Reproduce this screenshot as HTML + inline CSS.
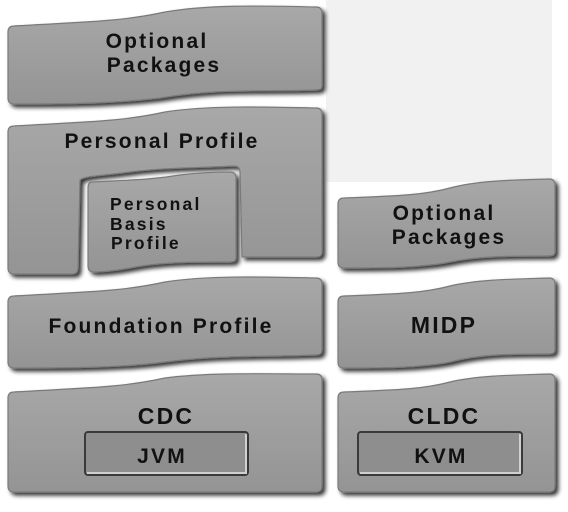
<!DOCTYPE html>
<html><head><style>
html,body{margin:0;padding:0;background:#fff;}
svg{display:block}
text{font-family:"Liberation Sans",sans-serif;font-weight:bold;fill:#111;letter-spacing:2.2px}
</style></head><body>
<svg width="568" height="512" viewBox="0 0 568 512" xmlns="http://www.w3.org/2000/svg">
<defs>
<linearGradient id="g" x1="0" y1="0" x2="0" y2="1">
<stop offset="0" stop-color="#a8a8a8"/><stop offset="1" stop-color="#949494"/>
</linearGradient>
<filter id="s" x="-5%" y="-5%" width="115%" height="120%">
<feGaussianBlur in="SourceAlpha" stdDeviation="2"/><feOffset dx="3" dy="3"/>
<feComponentTransfer><feFuncA type="linear" slope="0.8"/></feComponentTransfer>
<feMerge><feMergeNode/><feMergeNode in="SourceGraphic"/></feMerge>
</filter>
</defs>
<rect x="326" y="0" width="226" height="182" fill="#f1f1f1"/>
<g fill="url(#g)" stroke="#7a7a7a" stroke-width="1.2" filter="url(#s)">
<path d="M14,26 C80,22 120,22 165,12 C210,4 270,6 316,7 Q322,7 322,13 L322,86 Q322,90 316,90 C260,92 220,88 160,98 C110,104 60,104 14,104 Q8,104 8,98 L8,32 Q8,26 14,26Z"/>
<path d="M14,126 C80,122 120,122 165,112 C210,105 270,107 316,108 Q322,108 322,114 L322,252 Q322,257 316,257 L242,257 L240,172 Q240,166 234,166 C190,168 160,168 130,172 C100,176 84,176 80,180 L78,268 Q78,274 72,274 L14,274 Q8,274 8,268 L8,132 Q8,126 14,126Z"/>
<path d="M92,182 C130,180 150,180 180,175 C205,172 220,172 230,172 Q236,172 236,178 L236,258 Q236,262 230,262 C190,262 160,262 130,268 C115,271 100,272 94,272 Q88,272 88,266 L88,188 Q88,182 92,182Z"/>
<path d="M14,296 C80,292 120,292 165,282 C210,275 270,277 316,278 Q322,278 322,284 L322,350 Q322,355 316,355 C260,357 220,355 165,362 C120,368 60,368 14,368 Q8,368 8,362 L8,302 Q8,296 14,296Z"/>
<path d="M14,392 C80,388 120,388 165,378 C210,372 270,374 316,374 Q322,374 322,380 L322,486 Q322,492 316,492 L14,492 Q8,492 8,486 L8,398 Q8,392 14,392Z"/>
<path d="M344,198 C390,196 420,196 450,188 C480,180 520,180 549,179 Q555,179 555,185 L555,252 Q555,256 549,256 C510,256 480,256 450,262 C420,268 380,268 344,268 Q338,268 338,262 L338,204 Q338,198 344,198Z"/>
<path d="M344,296 C390,294 420,294 450,286 C480,279 520,279 549,278 Q555,278 555,284 L555,350 Q555,354 549,354 C510,354 480,354 450,362 C420,368 380,368 344,368 Q338,368 338,362 L338,302 Q338,296 344,296Z"/>
<path d="M344,392 C390,390 420,390 450,382 C480,375 520,375 549,374 Q555,374 555,380 L555,486 Q555,492 549,492 L344,492 Q338,492 338,486 L338,398 Q338,392 344,392Z"/>
</g>
<rect x="85" y="432" width="163" height="43" rx="3" fill="#8e8e8e" stroke="#3a3a3a" stroke-width="2"/>
<path d="M87,473 L246,473 L246,434" fill="none" stroke="#d0d0d0" stroke-width="2"/>
<rect x="358" y="432" width="164" height="43" rx="3" fill="#8e8e8e" stroke="#3a3a3a" stroke-width="2"/>
<path d="M360,473 L520,473 L520,434" fill="none" stroke="#d0d0d0" stroke-width="2"/>
<g font-size="21">
<text x="157" y="48" text-anchor="middle">Optional</text>
<text x="164" y="72" text-anchor="middle">Packages</text>
<text x="162" y="148" text-anchor="middle">Personal Profile</text>
<text x="161" y="333" text-anchor="middle">Foundation Profile</text>
<text x="166" y="424" text-anchor="middle" font-size="23">CDC</text>
<text x="162" y="463" text-anchor="middle">JVM</text>
<text x="444" y="220" text-anchor="middle">Optional</text>
<text x="449" y="244" text-anchor="middle">Packages</text>
<text x="444" y="333" text-anchor="middle" font-size="23">MIDP</text>
<text x="444" y="424" text-anchor="middle" font-size="23">CLDC</text>
<text x="441" y="463" text-anchor="middle">KVM</text>
</g>
<g font-size="17.5" style="letter-spacing:2px">
<text x="110" y="210">Personal</text>
<text x="110" y="230">Basis</text>
<text x="111" y="249">Profile</text>
</g>
</svg>
</body></html>
